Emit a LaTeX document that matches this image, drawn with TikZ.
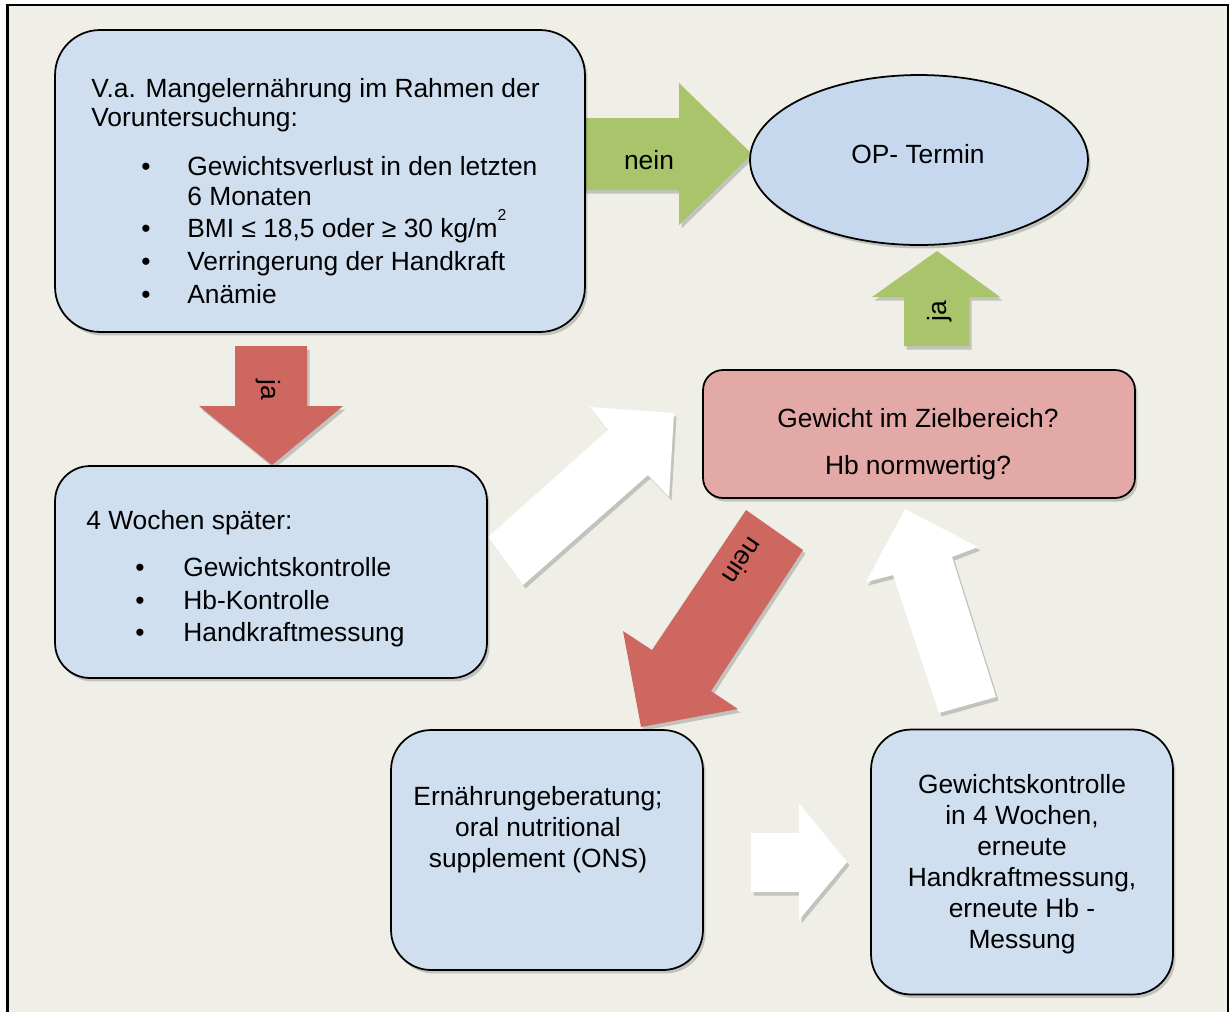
\documentclass[tikz,border=0pt]{standalone}
\usepackage{fontspec}
\setmainfont{Liberation Sans}
\usetikzlibrary{positioning,shapes.geometric,shadows}
\definecolor{grund}{HTML}{EFEEE7}
\definecolor{hell}{HTML}{CFDFF0}
\definecolor{oval}{HTML}{C6D8ED}
\definecolor{frage}{HTML}{E3A9A7}
\definecolor{gruen}{HTML}{A9C46B}
\definecolor{rot}{HTML}{CD6760}
\tikzset{
  schatten/.style={drop shadow={shadow xshift=0.05cm, shadow yshift=-0.07cm, opacity=0.18, fill=black}},
  kasten/.style={draw, line width=1pt, fill=hell, schatten, inner sep=0pt},
  pfeil/.style={schatten},
  txt/.style={inner sep=0pt, anchor=base west},
  mtxt/.style={inner sep=0pt, anchor=base}}

\begin{document}
\begin{tikzpicture}[x=0.02cm, y=-0.02cm, font=\fontsize{15}{17.6}\selectfont]
\useasboundingbox (0,0) rectangle (1230,1012);
\fill[grund] (8,5) rectangle (1228,1012);
\draw[line width=1.2pt] (7.5,1012) |- (1228,5) -- (1228,1012);
% block arrows
\fill[gruen, pfeil] (583,118) -- (679,118) -- (679,83) -- (752,154) -- (679,225) -- (679,190) -- (583,190) -- cycle;
\fill[gruen, pfeil] (904,346) -- (904,297) -- (872,297) -- (937,251) -- (1000,297) -- (969,297) -- (969,346) -- cycle;
\fill[rot, pfeil] (235,346) -- (307,346) -- (307,406) -- (343,406) -- (272,465) -- (199,406) -- (235,406) -- cycle;
\fill[white, pfeil] (523,585) -- (488,537) -- (608,430) -- (590,407) -- (674,413) -- (669,497) -- (648,475) -- cycle;
\fill[rot, pfeil] (746,510) -- (803,550) -- (711,691) -- (738,709) -- (641,727) -- (623,631) -- (652,650) -- cycle;
\fill[white, pfeil] (905,509) -- (978,547) -- (952,557) -- (996,697) -- (939,713) -- (893,575) -- (866,582) -- cycle;
\fill[white, pfeil] (751,833) -- (799,833) -- (799,803) -- (847,862) -- (799,920) -- (799,892) -- (751,892) -- cycle;
\node[mtxt] (neinop) at (649,169) {nein};
\node[mtxt, rotate=90] (jaop) at (946,311) {ja};
\node[mtxt, rotate=-90] (javerl) at (261,390) {ja};
\node[inner sep=0pt, rotate=-124] (neinons) at (743,561) {nein};
% boxes
\node[kasten, rounded corners=0.9cm, minimum width=10.6cm, minimum height=6.04cm] (verdacht) at (320,181) {};
\node[kasten, rounded corners=0.7cm, minimum width=8.64cm, minimum height=4.24cm] (kontrolle) at (271,572) {};
\node[kasten, fill=frage, rounded corners=0.4cm, minimum width=8.64cm, minimum height=2.56cm] (ziel) at (919,434) {};
\node[kasten, rounded corners=0.8cm, minimum width=6.24cm, minimum height=4.8cm] (beratung) at (547,850) {};
\node[kasten, rounded corners=0.8cm, minimum width=6.04cm, minimum height=5.3cm] (wiegen) at (1022,862) {};
\node[ellipse, draw, line width=1pt, fill=oval, schatten, minimum width=6.76cm, minimum height=3.4cm, inner sep=0pt] (op) at (919,160) {};
% texts
\node[mtxt] (optxt) at (918,163) {OP- Termin};
\node[txt] (va) at (91,97) {V.a. Mangelernährung im Rahmen der};
\node[txt] (vu) at (91,126) {Voruntersuchung:};
\foreach \y/\b/\t in {175/1/Gewichtsverlust in den letzten, 205/0/6 Monaten,
    237/1/{BMI ≤ 18,5 oder ≥ 30 kg/m\raisebox{1.2ex}{\fontsize{9}{9}\selectfont 2}}, 270/1/Verringerung der Handkraft, 303/1/Anämie} {
  \ifnum\b=1 \node[mtxt] at (146,\y) {\textbullet}; \fi
  \node[txt] at (187,\y) {\t};}
\node[txt] (spaeter) at (86,529) {4 Wochen später:};
\foreach \y/\t in {576/Gewichtskontrolle, 609/Hb-Kontrolle, 641/Handkraftmessung} {
  \node[mtxt] at (140,\y) {\textbullet};
  \node[txt] at (183,\y) {\t};}
\node[mtxt] (zieltxt) at (918,427) {Gewicht im Zielbereich?};
\node[mtxt] (hbtxt) at (918,474) {Hb normwertig?};
\node[anchor=north, align=center, inner sep=0pt] (onstxt) at (538,786) {Ernährungeberatung;\\oral nutritional\\supplement (ONS)};
\node[anchor=north, align=center, inner sep=0pt] (wiegtxt) at (1022,774) {Gewichtskontrolle\\in 4 Wochen,\\erneute\\Handkraftmessung,\\erneute Hb -\\Messung};
\end{tikzpicture}
\end{document}
